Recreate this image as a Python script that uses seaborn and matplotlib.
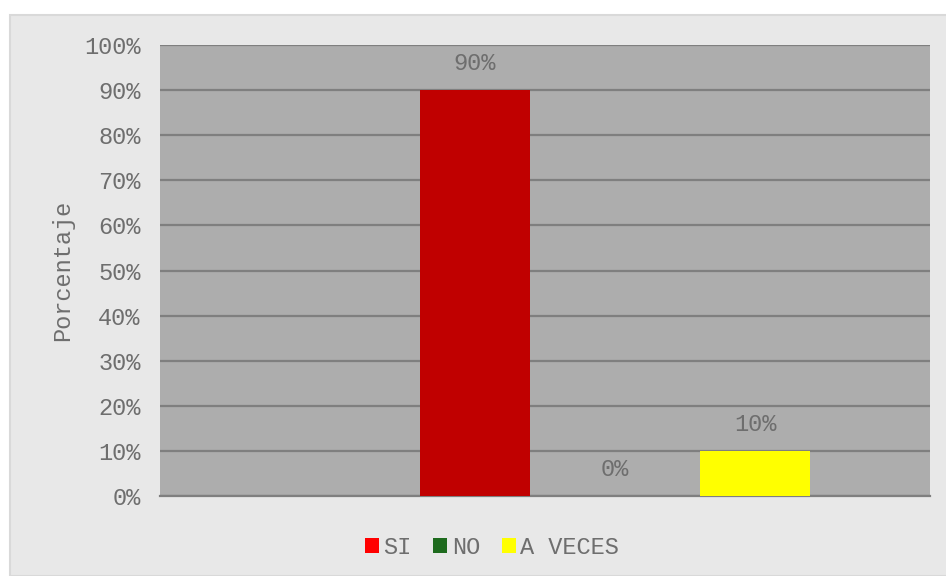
import seaborn as sns
import pandas as pd
import matplotlib.pyplot as plt
from matplotlib.patches import Rectangle, Patch
from matplotlib.ticker import PercentFormatter

respuestas = ["SI", "NO", "A VECES"]
porcentajes = [0.90, 0.00, 0.10]
colores_barra = ["#C00000", "#1E6B1E", "#FFFF00"]
colores_leyenda = ["#FF0000", "#1E6B1E", "#FFFF00"]
etiquetas = ["90%", "0%", "10%"]

df = pd.DataFrame({'respuesta': respuestas, 'pct': porcentajes})

sns.set_style("white")
plt.rcParams['font.family'] = ['Liberation Mono', 'DejaVu Sans']
txt = "#6E6E6E"
fs = 17

fig = plt.figure(figsize=(9.46, 5.76), dpi=100, facecolor="white")
# chart area box
fig.patches.append(Rectangle((10 / 946, 0), 1, (576 - 15) / 576, transform=fig.transFigure,
                             facecolor="#E8E8E8", edgecolor="#D9D9D9", linewidth=1.5, zorder=-1))

ax = fig.add_axes([160 / 946, 80 / 576, 770 / 946, 451 / 576])
ax.set_zorder(1)
ax.set_facecolor("#ADADAD")
sns.barplot(data=df, x='respuesta', y='pct', hue='respuesta', palette=colores_barra,
            width=0.786, legend=False, saturation=1, linewidth=0, ax=ax, zorder=3)

ax.set_xlim(-2.25, 3.25)
ax.set_ylim(0, 1)
ax.set_yticks([i / 10 for i in range(11)])
ax.yaxis.set_major_formatter(PercentFormatter(1.0, decimals=0))
ax.grid(axis='y', color="#7F7F7F", linewidth=1.6, zorder=1)
ax.set_axisbelow(True)
for s in ['left', 'right', 'top']:
    ax.spines[s].set_visible(False)
ax.spines['bottom'].set_color("#7F7F7F")
ax.spines['bottom'].set_linewidth(1.6)
ax.tick_params(axis='both', length=0, labelsize=fs, labelcolor=txt, pad=14)
ax.set_xticks([])
ax.set_xlabel("")
ax.set_ylabel("Porcentaje", fontsize=fs, color=txt, labelpad=7)

for i, (v, lab) in enumerate(zip(porcentajes, etiquetas)):
    y = v + 0.058 if v > 0 else 0.058
    ax.text(i, y, lab, ha='center', va='center', fontsize=fs, color=txt, zorder=4)

handles = [Patch(facecolor=c, edgecolor='none') for c in colores_leyenda]
fig.legend(handles, respuestas, loc='center', bbox_to_anchor=(492 / 946, 1 - 547 / 576),
           ncol=3, frameon=False, fontsize=fs, labelcolor=txt, handlelength=0.6,
           handleheight=0.6, handletextpad=0.2, columnspacing=0.9)

fig.savefig("out.png", dpi=100, facecolor=fig.get_facecolor())
